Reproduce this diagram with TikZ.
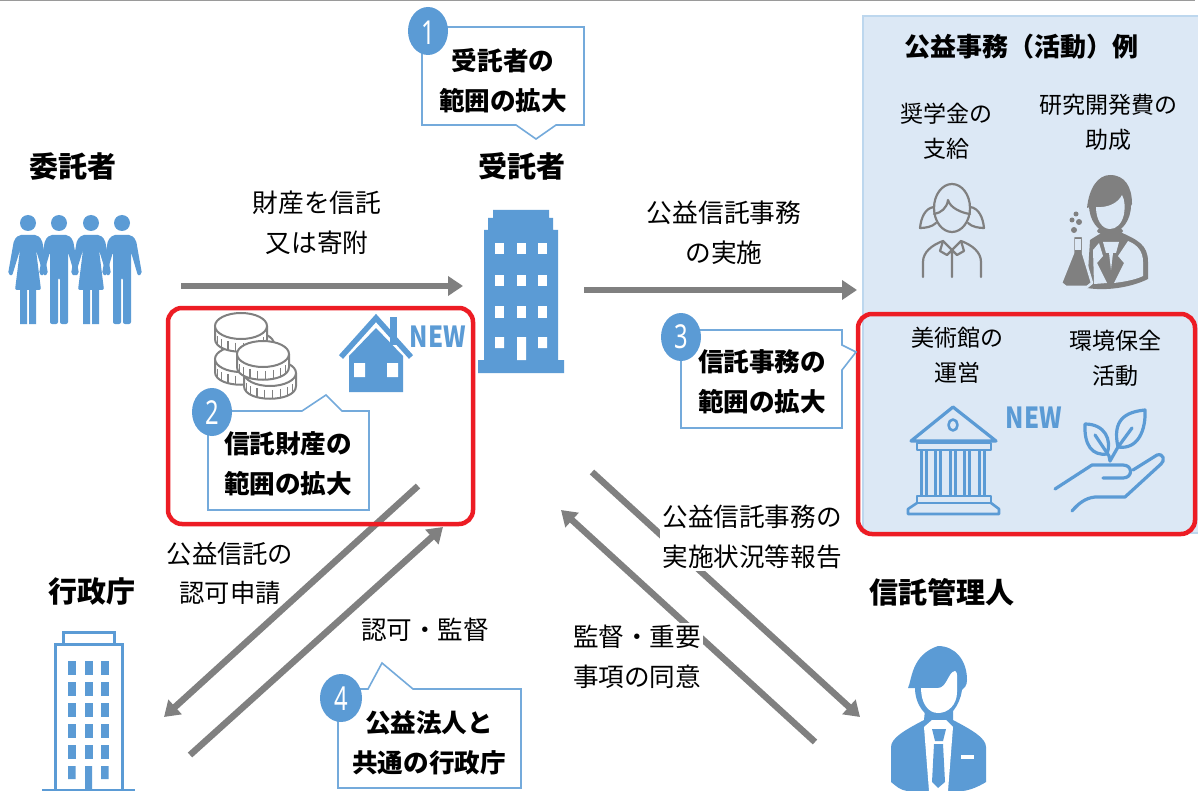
\documentclass[tikz,border=0pt]{standalone}
\usepackage{fontspec}
\setmainfont{Noto Sans CJK JP}
\newfontfamily\latinfont{Noto Sans}
\usetikzlibrary{arrows.meta}
\definecolor{iconblue}{HTML}{5B9BD5}
\definecolor{panelfill}{HTML}{DCE8F5}
\definecolor{panelline}{HTML}{BDD7EE}
\definecolor{alertred}{HTML}{ED1C24}
\definecolor{flowgray}{HTML}{808080}
\tikzset{
  x=1pt,y=-1pt,
  flow/.style={draw=flowgray,line width=6.5pt,-{Triangle[length=15pt,width=19pt]}},
  redbox/.style={draw=alertred,line width=4.5pt,rounded corners=14pt},
  callout/.style={draw=iconblue!85!white,line width=1.6pt,fill=white},
  badge/.style={fill=iconblue,draw=none},
  badgenum/.style={text=white,font=\latinfont\fontsize{33}{36}\selectfont,inner sep=0pt,xscale=.72},
  actor/.style={font=\bfseries\fontsize{29}{36}\selectfont,inner sep=0pt,align=center},
  label/.style={font=\fontsize{25.7}{40}\selectfont,inner sep=0pt,align=center},
  small/.style={font=\fontsize{23}{35}\selectfont,inner sep=0pt,align=center},
  calltext/.style={font=\bfseries\fontsize{25.6}{40}\selectfont,inner sep=0pt,align=center},
  newtag/.style={text=iconblue,font=\bfseries\fontsize{29}{30}\selectfont,inner sep=0pt,xscale=.83},
  ico/.style={draw=iconblue,line width=3.2pt,line cap=round,line join=round},
  grayico/.style={draw=flowgray,line width=2.2pt,line cap=round,line join=round},
}
\newcommand{\coinicon}[2]{%
  \fill[white] (#1-26,#2) -- (#1-26,#2+13) .. controls (#1-26,#2+30) and (#1+26,#2+30) .. (#1+26,#2+13) -- (#1+26,#2) -- cycle;
  \draw[flowgray,line width=2pt] (#1-26,#2) -- (#1-26,#2+13) .. controls (#1-26,#2+30) and (#1+26,#2+30) .. (#1+26,#2+13) -- (#1+26,#2);
  \foreach \a in {30,48,66,84,102,120,138,156}{%
    \draw[flowgray,line width=1.5pt] ({#1+26*cos(\a)},{#2+5+12*sin(\a)}) -- ++(0,9);}
  \draw[flowgray,line width=2pt,fill=white] (#1,#2) ellipse [x radius=26,y radius=13];
}
\newcommand{\womanicon}[1]{%
  \fill[iconblue] (#1,223) circle (8);
  \fill[iconblue,rounded corners=2pt] (#1-9,235) -- (#1+9,235) -- (#1+14,240) -- (#1+20,274) -- (#1+16,276) -- (#1+8,250) -- (#1+13,290) -- (#1-13,290) -- (#1-8,250) -- (#1-16,276) -- (#1-20,274) -- (#1-14,240) -- cycle;
  \fill[iconblue] (#1-8,288) rectangle (#1-1,324) (#1+1,288) rectangle (#1+8,324);
}
\newcommand{\manicon}[1]{%
  \fill[iconblue] (#1,223) circle (8);
  \fill[iconblue,rounded corners=2pt] (#1-9,235) -- (#1+9,235) -- (#1+14,240) -- (#1+20,274) -- (#1+16,276) -- (#1+9,252) -- (#1+9,324) -- (#1+1,324) -- (#1+1,278) -- (#1-1,278) -- (#1-1,324) -- (#1-9,324) -- (#1-9,252) -- (#1-16,276) -- (#1-20,274) -- (#1-14,240) -- cycle;
}
\begin{document}
\begin{tikzpicture}
\useasboundingbox (0,0) rectangle (1198,791);
\fill[white] (0,0) rectangle (1198,791);
\fill[flowgray!80] (0,0) rectangle (1195,1.5);

% panel
\draw[fill=panelfill,draw=panelline,line width=2.5pt] (863,16) rectangle (1199,533);

% anchors for connectors
\coordinate (a1s) at (181,286); \coordinate (a1e) at (463,286);
\coordinate (a2s) at (584,290); \coordinate (a2e) at (857,290);
\coordinate (a3s) at (418,486); \coordinate (a3e) at (164,717);
\coordinate (a4s) at (190,755); \coordinate (a4e) at (443,527);
\coordinate (a5s) at (592,472); \coordinate (a5e) at (860,717);
\coordinate (a6s) at (815,742); \coordinate (a6e) at (561,510);
\draw[flow] (a1s) -- (a1e);
\draw[flow] (a2s) -- (a2e);
\draw[flow] (a3s) -- (a3e);
\draw[flow] (a4s) -- (a4e);
\draw[flow] (a5s) -- (a5e);
\draw[flow] (a6s) -- (a6e);

% red frames
\draw[redbox] (168,308) rectangle (473,524);
\draw[redbox] (858,314) rectangle (1195,534);

% people
\womanicon{28}\manicon{59}\womanicon{91}\manicon{122}

% coins
\coinicon{248}{344}
\coinicon{241}{359}
\coinicon{241}{326}
\coinicon{270}{373}
\coinicon{263}{354}

% house
\fill[iconblue] (349,392) -- (349,356) -- (376,328) -- (403,356) -- (403,392) -- cycle;
\fill[white] (354,363) rectangle (365,377) (387,363) rectangle (398,377);
\fill[iconblue] (390,317) rectangle (397,345);
\draw[iconblue,line width=5.5pt] (341,357) -- (376,318) -- (411,357);
\node[newtag] (newa) at (438,337) {NEW};

% trustee building
\fill[iconblue] (493,210) -- (549,210) -- (549,218) -- (553,218) -- (553,230) -- (558,230) -- (558,360) -- (564,360) -- (564,373) -- (478,373) -- (478,360) -- (484,360) -- (484,230) -- (488,230) -- (488,218) -- (493,218) -- cycle;
\foreach \cx in {495,517,538}{\foreach \ry in {243,275,306}{\fill[white] (\cx,\ry) rectangle (\cx+9,\ry+11.5);}}
\fill[white] (495,337) rectangle (504,348) (538,337) rectangle (547,348) (517,337) rectangle (526,360);

% government building
\draw[iconblue,line width=3pt] (63,643) -- (63,632) -- (114,632) -- (114,643);
\draw[iconblue,line width=3pt] (55,790) -- (55,644) -- (122,644) -- (122,790);
\foreach \cx in {68,85,101}{\foreach \ry in {661,682,703,724,745}{\fill[iconblue] (\cx,\ry) rectangle (\cx+7.5,\ry+13.5);}}
\fill[iconblue] (68,766) rectangle (75.5,779) (101,766) rectangle (108.5,779) (85,766) rectangle (92,791);
\fill[iconblue] (42,789) rectangle (135,791);

% administrator
\fill[iconblue] (891,747) .. controls (891,738) and (905,730) .. (924,720) -- (925,710) -- (953,710) -- (953,720) .. controls (972,730) and (986,738) .. (986,747) -- (986,782) .. controls (978,787) and (970,790) .. (963,791) -- (907,791) .. controls (900,790) and (896,786) .. (891,782) -- cycle;
\fill[iconblue] (908,688) .. controls (912,680) and (911,655) .. (938,646) .. controls (955,646) and (967,660) .. (967,680) .. controls (967,686) and (964,688) .. (962,690) .. controls (960,705) and (950,719) .. (938,719) .. controls (926,719) and (915,705) .. (915,688) -- cycle;
\fill[white] (921,688) -- (938,688) .. controls (947,688) and (948,672) .. (955,671) .. controls (958,671) and (957,680) .. (957,692) .. controls (957,705) and (948,713) .. (938,713) .. controls (928,713) and (921,703) .. (921,688) -- cycle;
\fill[white] (924,727) -- (932,720) -- (946,720) -- (953,727) -- (948,791) -- (929,791) -- cycle;
\fill[iconblue] (932,729) -- (946,729) -- (943,741) -- (935,741) -- cycle (934,744) -- (943,744) -- (945,782) -- (938,788) -- (932,782) -- cycle;
\fill[white] (961,755) rectangle (974,759);

% girl
\draw[grayico] (952,208) ellipse [x radius=18,y radius=24];
\draw[grayico] (934,214) .. controls (941,213) and (947,208) .. (948,200) .. controls (950,208) and (962,213) .. (970,214);
\draw[grayico] (934,207) .. controls (925,208) and (921,218) .. (920,228) .. controls (925,228) and (932,227) .. (936,223);
\draw[grayico] (970,207) .. controls (979,208) and (983,218) .. (984,228) .. controls (979,228) and (972,227) .. (968,223);
\draw[grayico] (923,277) -- (923,262) .. controls (923,252) and (932,245) .. (943,241) -- (952,250) -- (961,241) .. controls (972,245) and (981,252) .. (981,262) -- (981,277);
\draw[grayico] (952,250) -- (952,277) (943,241) -- (940,251) -- (947,255) -- (952,250) -- (957,255) -- (964,251) -- (961,241);

% scientist
\fill[flowgray] (1090,240) .. controls (1096,236) and (1100,234) .. (1103,232) -- (1120,232) .. controls (1138,240) and (1148,245) .. (1148,262) -- (1148,279) .. controls (1130,288) and (1105,291) .. (1087,288) -- cycle;
\fill[panelfill] (1128,241) .. controls (1138,245) and (1143,252) .. (1143,262) -- (1143,276) .. controls (1135,280) and (1122,282) .. (1114,283) -- (1124,263) -- (1118,256) -- cycle;
\fill[panelfill] (1093,250) -- (1099,243) -- (1103,256) -- (1097,263) -- (1107,283) -- (1094,284) -- cycle;
\fill[panelfill] (1103,242) -- (1119,242) -- (1116,253) -- (1113,253) -- (1111,270) -- (1109,253) -- (1106,253) -- cycle;
\fill[flowgray] (1110,231) ellipse [x radius=13,y radius=4];
\fill[flowgray] (1110,205) ellipse [x radius=21,y radius=28];
\fill[flowgray] (1087,208) .. controls (1089,188) and (1098,175) .. (1110,175) .. controls (1125,175) and (1132,187) .. (1132,204) -- (1126,215) -- (1110,200) -- cycle;
\fill[panelfill] (1096,207) .. controls (1108,208) and (1118,203) .. (1122,195) .. controls (1125,200) and (1125,208) .. (1124,214) .. controls (1122,224) and (1116,229) .. (1110,229) .. controls (1102,229) and (1096,220) .. (1096,207) -- cycle;
\draw[panelfill,line width=2.5pt,line join=round,fill=flowgray] (1073,236) -- (1083,236) -- (1083,253) -- (1092,283) -- (1087,287) -- (1066,287) -- (1061,283) -- (1073,253) -- cycle;
\fill[panelfill] (1075,239) rectangle (1081,250);
\fill[flowgray] (1076,214) circle (2.5) (1079,222) circle (3) (1072,220) circle (2.5) (1074,230) circle (3);

% museum
\draw[ico] (953,407) -- (911,441) -- (996,441) -- cycle;
\draw[ico,line width=2.6pt] (953,425) ellipse [x radius=4.5,y radius=5.5];
\draw[ico,line width=2.6pt] (917,443) rectangle (991,450);
\foreach \cx in {924,938,953,967,982}{\draw[iconblue,line width=2.6pt] (\cx-2.5,450) -- (\cx-2.5,496) (\cx+2.5,450) -- (\cx+2.5,496);}
\draw[ico,line width=2.6pt] (917,496) rectangle (991,503);
\draw[ico,line width=2.6pt] (917,503) -- (908,509) -- (908,514) -- (999,514) -- (999,509) -- (991,503);

% hand and plant
\draw[ico] (1118,447) .. controls (1112,420) and (1125,412) .. (1145,410) .. controls (1146,430) and (1138,450) .. (1118,447) -- (1132,428);
\draw[ico] (1085,424) .. controls (1105,424) and (1112,440) .. (1107,454) .. controls (1092,456) and (1084,445) .. (1085,424);
\draw[ico] (1095,435) -- (1109,456) -- (1110,461);
\draw[ico] (1118,447) -- (1110,461);
\draw[ico] (1055,489) -- (1092,465) -- (1123,465) .. controls (1133,465) and (1133,478) .. (1123,478) -- (1103,478);
\draw[ico] (1133,470) -- (1157,455) .. controls (1164,453) and (1165,461) .. (1161,464) -- (1125,497) -- (1095,497) .. controls (1085,498) and (1078,504) .. (1072,511);
\node[newtag] (newb) at (1034,418) {NEW};

% callouts
\draw[callout] (422,27) -- (584,27) -- (584,125) -- (556,125) -- (536,139) -- (516,125) -- (422,125) -- cycle;
\fill[badge] (428,31) ellipse [x radius=20,y radius=24];
\node[badgenum] (n1) at (428,33) {1};
\node[calltext] (c1) at (503,81) {受託者の\\範囲の拡大};

\draw[callout] (208,411) -- (302,411) -- (326,395) -- (342,411) -- (369,411) -- (369,510) -- (208,510) -- cycle;
\fill[badge] (212,412) ellipse [x radius=20,y radius=24];
\node[badgenum] (n2) at (212,413) {2};
\node[calltext] (c2) at (288,464) {信託財産の\\範囲の拡大};

\draw[callout] (681,330) -- (842,330) -- (842,345) -- (856,352) -- (842,370) -- (842,428) -- (681,428) -- cycle;
\fill[badge] (681,337) ellipse [x radius=20,y radius=24];
\node[badgenum] (n3) at (681,337) {3};
\node[calltext] (c3) at (762,382) {信託事務の\\範囲の拡大};

\draw[callout] (338,689) -- (368,689) -- (382,663) -- (413,689) -- (521,689) -- (521,788) -- (338,788) -- cycle;
\fill[badge] (341,698) ellipse [x radius=21,y radius=24];
\node[badgenum] (n4) at (341,699) {4};
\node[calltext] (c4) at (429,743) {公益法人と\\共通の行政庁};

% actors
\node[actor] (consignor) at (73,166) {委託者};
\node[actor] (trustee) at (522,166) {受託者};
\node[actor] (agency) at (92,592) {行政庁};
\node[actor] (admin) at (942,592) {信託管理人};
\node[font=\bfseries\fontsize{26}{34}\selectfont,inner sep=0pt] (ptitle) at (1021,47) {公益事務（活動）例};

% labels
\node[label] (l1) at (317,223) {財産を信託\\又は寄附};
\node[label] (l2) at (724,233) {公益信託事務\\の実施};
\node[small] (l3) at (946,131) {奨学金の\\支給};
\node[small] (l4) at (1108,122) {研究開発費の\\助成};
\node[small] (l5) at (957,355) {美術館の\\運営};
\node[small] (l6) at (1115,358) {環境保全\\活動};
\node[small,font=\fontsize{25.3}{39}\selectfont] (l7) at (230,573) {公益信託の\\認可申請};
\node[small,font=\fontsize{25.6}{35}\selectfont] (l8) at (425,630) {認可・監督};
\node[small,fill=white,inner sep=2pt,font=\fontsize{25.6}{40}\selectfont] (l9) at (637,657) {監督・重要\\事項の同意};
\node[small,fill=white,inner sep=2pt,font=\fontsize{25.6}{40}\selectfont] (l10) at (752,537) {公益信託事務の\\実施状況等報告};
\end{tikzpicture}
\end{document}
